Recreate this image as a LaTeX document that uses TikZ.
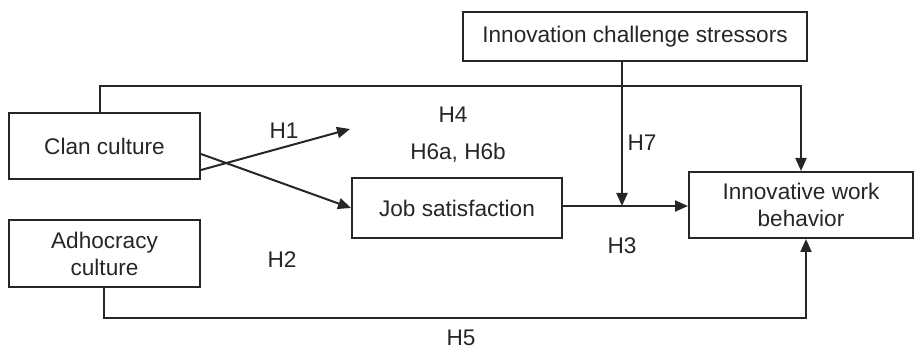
\documentclass[tikz,border=0pt]{standalone}
\usepackage{fontspec}
\setmainfont{Liberation Sans}
\usetikzlibrary{arrows.meta,calc}
\tikzset{
  box/.style={draw=black!85, line width=2pt, rectangle, inner sep=0pt, align=center,
    font=\fontsize{22.6}{27}\selectfont, text=black!85},
  lbl/.style={inner sep=0pt, font=\fontsize{22.6}{27}\selectfont, text=black!85},
  conn/.style={draw=black!85, line width=2pt},
  arr/.style={conn, -{Triangle[length=13pt,width=11pt]}},
}
\begin{document}
\begin{tikzpicture}[x=1pt,y=-1pt]
\useasboundingbox (0,0) rectangle (915,352);
\node[box, minimum width=191pt, minimum height=66pt] (clan) at (104.5,146) {Clan culture};
\node[box, minimum width=191pt, minimum height=67pt] (adh) at (104.5,253.5) {Adhocracy\\culture};
\node[box, minimum width=210pt, minimum height=60pt] (js) at (457,208) {Job satisfaction};
\node[box, minimum width=224pt, minimum height=66pt] (iwb) at (801,205) {Innovative work\\behavior};
\node[box, minimum width=344pt, minimum height=49pt] (ics) at (635,36.5) {Innovation challenge stressors};

\coordinate (c1) at (100,86);
\coordinate (a1) at (104,318);
\coordinate (a2) at (806,318);
\coordinate (junc) at (622,206);
\coordinate (free) at (350,129);

% H4 path
\draw[arr] (clan.north -| c1) -- (c1) -- (c1 -| iwb.north) -- (iwb.north);
% H5 path
\draw[arr] (adh.south -| a1) -- (a1) -- (a2) -- (iwb.south -| a2);
% H7
\draw[arr] (ics.south -| junc) -- (junc);
% H3
\draw[arr] (js.east |- junc) -- (iwb.west |- junc);
% clan -> js
\draw[arr] ($(clan.east)+(0,8)$) -- (js.west);
% H1 free arrow
\draw[arr] ($(clan.east)+(0,24)$) -- (free);

\node[lbl] (h1) at (284,131) {H1};
\node[lbl] (h4) at (453,115) {H4};
\node[lbl] (h6) at (458,153) {H6a, H6b};
\node[lbl] (h7) at (642,143) {H7};
\node[lbl] (h2) at (282,260) {H2};
\node[lbl] (h3) at (622,246) {H3};
\node[lbl] (h5) at (461,338) {H5};
\end{tikzpicture}
\end{document}
